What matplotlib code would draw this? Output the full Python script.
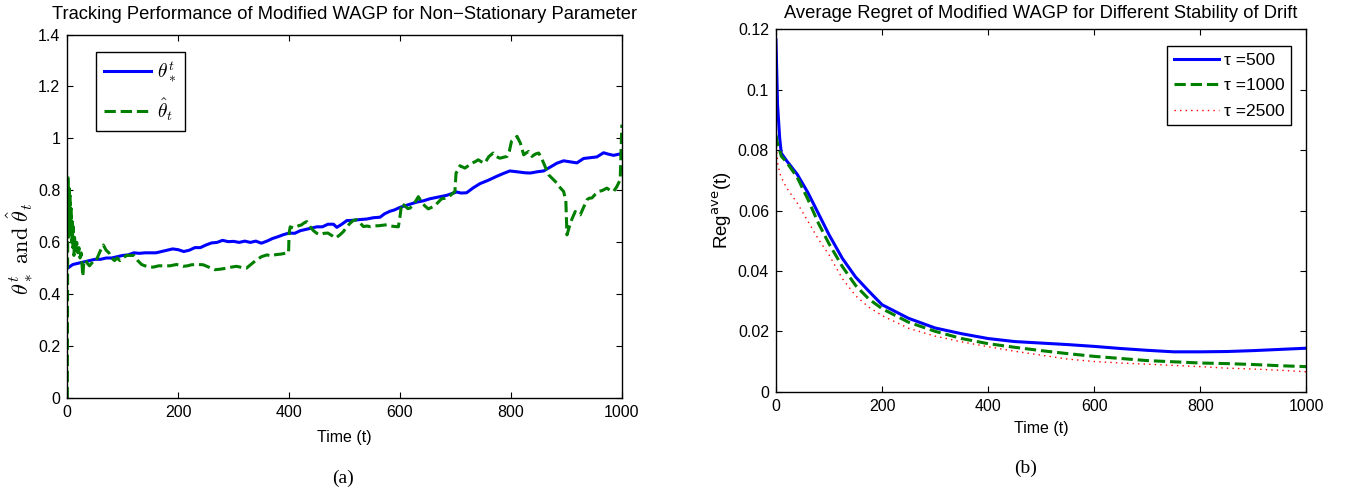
import matplotlib
matplotlib.use('Agg')
import matplotlib.pyplot as plt
from matplotlib.ticker import FuncFormatter
from matplotlib.font_manager import FontProperties

plt.rcParams['font.family'] = ['Liberation Sans', 'DejaVu Sans']
plt.rcParams['axes.linewidth'] = 1.0

# (a) tracking: true parameter theta*^t
t_true = [0, 10, 20, 30, 40, 50, 60, 70, 80, 90, 100, 110, 120, 130, 140, 150, 160, 170, 180, 190,
          200, 210, 220, 230, 240, 250, 260, 270, 280, 290, 300, 310, 320, 330, 340, 350, 360, 370, 380, 390,
          400, 410, 420, 430, 440, 450, 460, 470, 480, 486, 495, 504, 515, 528, 540, 552, 564, 572, 582, 590,
          600, 615, 630, 642, 654, 670, 684, 702, 710, 720, 732, 744, 760, 774, 786, 798, 810, 825, 835, 848,
          859, 871, 883, 895, 907, 919, 931, 943, 955, 967, 975, 985, 1000]
theta_true = [0.50, 0.515, 0.52, 0.525, 0.53, 0.535, 0.535, 0.54, 0.54, 0.545, 0.55, 0.552, 0.56, 0.558, 0.56, 0.56, 0.56, 0.565, 0.57, 0.575,
              0.572, 0.565, 0.57, 0.58, 0.58, 0.59, 0.598, 0.60, 0.608, 0.603, 0.604, 0.60, 0.605, 0.60, 0.605, 0.597, 0.605, 0.615, 0.622, 0.63,
              0.636, 0.635, 0.645, 0.65, 0.655, 0.66, 0.66, 0.67, 0.67, 0.658, 0.67, 0.684, 0.685, 0.688, 0.69, 0.695, 0.697, 0.71, 0.72, 0.725,
              0.735, 0.745, 0.755, 0.76, 0.768, 0.775, 0.781, 0.794, 0.79, 0.791, 0.81, 0.826, 0.84, 0.854, 0.865, 0.875, 0.872, 0.868, 0.867, 0.872,
              0.875, 0.89, 0.905, 0.914, 0.91, 0.906, 0.923, 0.926, 0.929, 0.945, 0.94, 0.935, 0.942]

# (a) tracking: estimate theta_hat
t_est = [0, 1, 2, 3, 4, 5, 6, 7, 8, 9, 10, 11, 12, 13, 15, 17, 19, 21, 23, 25, 27, 28, 30, 33, 36, 40, 44, 48, 52, 56,
         60, 65, 70, 75, 80, 85, 90, 95, 100, 107, 114, 120, 127, 134, 140, 148, 155, 165, 175, 185,
         197, 209, 217, 224, 235, 245, 255, 266, 276, 287, 296, 305, 314, 323, 331, 339, 350, 360, 368, 376,
         385, 395, 399, 400, 402, 408, 413, 418, 422, 427, 432, 438, 444, 450, 456, 463, 470, 478, 483, 486,
         492, 498, 504, 510, 516, 522, 528, 534, 540, 546, 553, 561, 568, 576, 584, 591, 597, 600, 603, 609,
         614, 618, 624, 630, 633, 639, 645, 651, 657, 663, 669, 675, 681, 687, 693, 699, 701, 705, 708, 713,
         717, 723, 729, 735, 741, 747, 753, 760, 768, 774, 780, 787, 793, 797, 801, 806, 811, 817, 823, 828,
         832, 838, 844, 850, 855, 859, 864, 868, 875, 883, 889, 895, 899, 901, 904, 907, 911, 916, 921, 925,
         931, 937, 941, 946, 952, 958, 965, 973, 979, 985, 991, 997, 1000]
theta_est = [0.00, 0.86, 0.62, 0.82, 0.70, 0.78, 0.63, 0.73, 0.60, 0.68, 0.58, 0.66, 0.55, 0.62, 0.57, 0.60, 0.56, 0.58, 0.54, 0.56, 0.50, 0.47, 0.53, 0.53, 0.52, 0.51, 0.52, 0.53, 0.53, 0.55,
             0.57, 0.59, 0.57, 0.56, 0.54, 0.53, 0.54, 0.53, 0.54, 0.55, 0.55, 0.55, 0.53, 0.515, 0.51, 0.505, 0.505, 0.51, 0.51, 0.51,
             0.515, 0.508, 0.51, 0.514, 0.515, 0.514, 0.505, 0.495, 0.497, 0.501, 0.505, 0.508, 0.504, 0.501, 0.515, 0.529, 0.545, 0.552, 0.548, 0.553,
             0.555, 0.559, 0.56, 0.636, 0.66, 0.655, 0.66, 0.665, 0.667, 0.675, 0.68, 0.66, 0.645, 0.635, 0.63, 0.635, 0.636, 0.625, 0.617, 0.62,
             0.63, 0.642, 0.66, 0.674, 0.685, 0.687, 0.675, 0.661, 0.663, 0.661, 0.664, 0.664, 0.666, 0.668, 0.663, 0.661, 0.66, 0.70, 0.751, 0.74,
             0.73, 0.732, 0.745, 0.765, 0.776, 0.755, 0.74, 0.729, 0.735, 0.742, 0.755, 0.768, 0.77, 0.774, 0.785, 0.796, 0.867, 0.88, 0.895, 0.89,
             0.886, 0.895, 0.905, 0.91, 0.918, 0.91, 0.905, 0.93, 0.944, 0.93, 0.924, 0.928, 0.931, 0.95, 0.989, 0.998, 1.008, 0.982, 0.937, 0.945,
             0.95, 0.931, 0.94, 0.944, 0.925, 0.905, 0.88, 0.86, 0.845, 0.828, 0.81, 0.796, 0.76, 0.629, 0.65, 0.674, 0.695, 0.719, 0.71, 0.706,
             0.735, 0.764, 0.77, 0.771, 0.785, 0.796, 0.80, 0.809, 0.80, 0.796, 0.815, 0.841, 1.053]

# (b) average regret
t_reg = [0, 3, 7, 10, 20, 40, 60, 80, 100, 125, 150, 175, 200, 250, 300, 350, 400, 450, 500,
         550, 600, 650, 700, 750, 800, 850, 900, 950, 1000]
reg_500 = [0.1165, 0.095, 0.084, 0.079, 0.0765, 0.072, 0.066, 0.059, 0.052, 0.0442, 0.038, 0.0333, 0.0288, 0.0243,
           0.0211, 0.0192, 0.0176, 0.0166, 0.0161, 0.0156, 0.0150, 0.0143, 0.0137, 0.0132, 0.0132, 0.0133, 0.0136, 0.014, 0.0144]
reg_1000 = [0.085, 0.082, 0.080, 0.078, 0.076, 0.071, 0.0638, 0.0558, 0.049, 0.0415, 0.0352, 0.0307, 0.0275, 0.0230,
            0.0200, 0.0176, 0.0159, 0.0147, 0.0136, 0.0126, 0.0117, 0.0110, 0.0103, 0.0099, 0.0095, 0.0093, 0.0090, 0.0086, 0.0083]
reg_2500 = [0.083, 0.076, 0.0725, 0.071, 0.0675, 0.0625, 0.0565, 0.0505, 0.0453, 0.0375, 0.0318, 0.028, 0.0252, 0.021,
            0.0184, 0.0165, 0.0149, 0.0134, 0.0121, 0.0108, 0.0100, 0.0095, 0.0091, 0.0087, 0.0083, 0.0078, 0.0075, 0.0071, 0.0066]

fig = plt.figure(figsize=(13.46, 4.93), dpi=100)
ax1 = fig.add_axes([0.050, 0.192, 0.412, 0.738])
ax2 = fig.add_axes([0.5765, 0.2055, 0.394, 0.735])

tick_fs = 11.5
fmt = FuncFormatter(lambda v, p: ('%g' % round(v, 4)))

ax1.plot(t_true, theta_true, color='#0000ff', lw=2.2, label=r'$\theta_*^t$')
ax1.plot(t_est, theta_est, color='#007f00', lw=2.2, ls='--', label=r'$\hat{\theta}_t$')
ax1.set_xlim(0, 1000)
ax1.set_ylim(0, 1.4)
ax1.set_xticks(range(0, 1001, 200))
ax1.set_yticks([0, 0.2, 0.4, 0.6, 0.8, 1.0, 1.2, 1.4])
ax1.yaxis.set_major_formatter(fmt)
ax1.set_title('Tracking Performance of Modified WAGP for Non\u2212Stationary Parameter', fontsize=13.2, pad=11)
ax1.set_xlabel('Time (t)', fontsize=11.5, labelpad=7)
ax1.set_ylabel(r'$\theta_*^t\ \mathrm{and}\ \hat{\theta}_t$', fontsize=16, math_fontfamily='cm')
ax1.yaxis.set_label_coords(-0.058, 0.41)
leg1 = ax1.legend(loc='upper left', bbox_to_anchor=(0.052, 0.952), borderaxespad=0, fancybox=False,
                  edgecolor='black', framealpha=1, handlelength=2.4, handletextpad=0.35, labelspacing=0.6,
                  borderpad=0.4, prop=FontProperties(size=14, math_fontfamily='cm'))
leg1.get_frame().set_linewidth(1.0)

ax2.plot(t_reg, reg_500, color='#0000ff', lw=2.2, label='\u03c4 =500')
ax2.plot(t_reg, reg_1000, color='#007f00', lw=2.2, ls='--', label='\u03c4 =1000')
ax2.plot(t_reg, reg_2500, color='#ff0000', lw=1.0, ls=(0, (1, 3)), label='\u03c4 =2500')
ax2.set_xlim(0, 1000)
ax2.set_ylim(0, 0.12)
ax2.set_xticks(range(0, 1001, 200))
ax2.set_yticks([0, 0.02, 0.04, 0.06, 0.08, 0.1, 0.12])
ax2.yaxis.set_major_formatter(fmt)
ax2.set_title('Average Regret of Modified WAGP for Different Stability of Drift', fontsize=13.2, pad=8)
ax2.set_xlabel('Time (t)', fontsize=11.5, labelpad=5)
ax2.set_ylabel(r'Reg$^{\mathrm{ave}}$(t)', fontsize=13.5, math_fontfamily='dejavusans', labelpad=3)
leg2 = ax2.legend(loc='upper right', bbox_to_anchor=(0.972, 0.954), borderaxespad=0, fancybox=False,
                  edgecolor='black', framealpha=1, handlelength=2.6, handletextpad=0.3, labelspacing=0.6,
                  borderpad=0.38, fontsize=12.5)
leg2.get_frame().set_linewidth(1.0)

for ax in (ax1, ax2):
    ax.tick_params(direction='in', top=True, right=True, length=4, width=0.8, labelsize=tick_fs, pad=5)

fig.text(0.255, 0.030, '(a)', fontsize=14, family='Liberation Serif', ha='center', va='center')
fig.text(0.762, 0.051, '(b)', fontsize=14, family='Liberation Serif', ha='center', va='center')

fig.savefig('out.png', dpi=100)
